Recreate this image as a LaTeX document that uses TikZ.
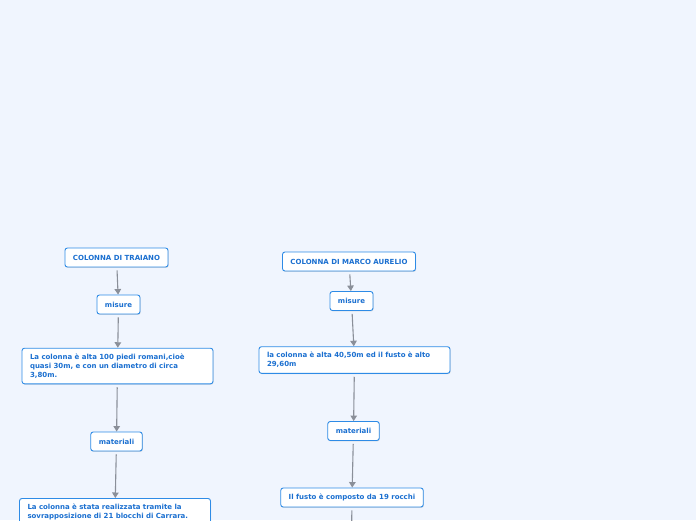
\documentclass[tikz,border=0pt]{standalone}
\usepackage{fontspec}
\setmainfont{DejaVu Sans}
\usepackage{xcolor}
\usepackage{tikz}
\usetikzlibrary{arrows.meta,shadows}

\definecolor{bgblue}{RGB}{240,245,254}
\definecolor{boxblue}{RGB}{46,139,230}
\definecolor{txtblue}{RGB}{26,111,208}
\definecolor{linegray}{RGB}{138,143,153}

\begin{document}
\begin{tikzpicture}[
    x=1pt, y=-1pt,
    font=\fontsize{7}{9}\selectfont\bfseries,
    topic/.style={draw=boxblue, fill=white, rounded corners=2.5pt, line width=0.9pt,
      text=txtblue, inner xsep=8pt, inner ysep=3pt, minimum height=19pt,
      drop shadow={shadow xshift=0.6pt, shadow yshift=-0.9pt, opacity=0.25}},
    note/.style={topic, text width=175pt, align=left, inner ysep=5.5pt},
    link/.style={draw=linegray, line width=1.1pt, shorten <=3pt,
      -{Triangle[width=6.5pt,length=5.5pt]}}
  ]
    \fill[bgblue] (0,0) rectangle (696,520);
    \useasboundingbox (0,0) rectangle (696,520);

    % Traiano
    \node[topic] (traiano) at (116.5,257.5) {COLONNA DI TRAIANO};
    \node[topic] (misureT) at (118.5,304.5) {misure};
    \node[note] (altezzaT) at (117.5,366)
      {La colonna è alta 100 piedi romani,cioè\\ quasi 30m, e con un diametro di circa\\ 3,80m.};
    \node[topic] (materialiT) at (116.5,441.5) {materiali};
    \node[note, anchor=north] (blocchiT) at (115,498)
      {La colonna è stata realizzata tramite la\\ sovrapposizione di 21 blocchi di Carrara.};

    % Marco Aurelio
    \node[topic] (aurelio) at (349,261.5) {COLONNA DI MARCO AURELIO};
    \node[topic] (misureA) at (351.5,301) {misure};
    \node[note] (altezzaA) at (354.5,360)
      {la colonna è alta 40,50m ed il fusto è alto\\ 29,60m};
    \node[topic] (materialiA) at (353.5,431) {materiali};
    \node[topic] (rocchiA) at (352,497.5) {Il fusto è composto da 19 rocchi};
    \coordinate (belowA) at (351.5,540);

    \draw[link] (traiano) -- (misureT);
    \draw[link] (misureT) -- (altezzaT);
    \draw[link] (altezzaT) -- (materialiT);
    \draw[link] (materialiT) -- (blocchiT);
    \draw[link] (aurelio) -- (misureA);
    \draw[link] (misureA) -- (altezzaA);
    \draw[link] (altezzaA) -- (materialiA);
    \draw[link] (materialiA) -- (rocchiA);
    \draw[link] (rocchiA) -- (belowA);
  \end{tikzpicture}
\end{document}
